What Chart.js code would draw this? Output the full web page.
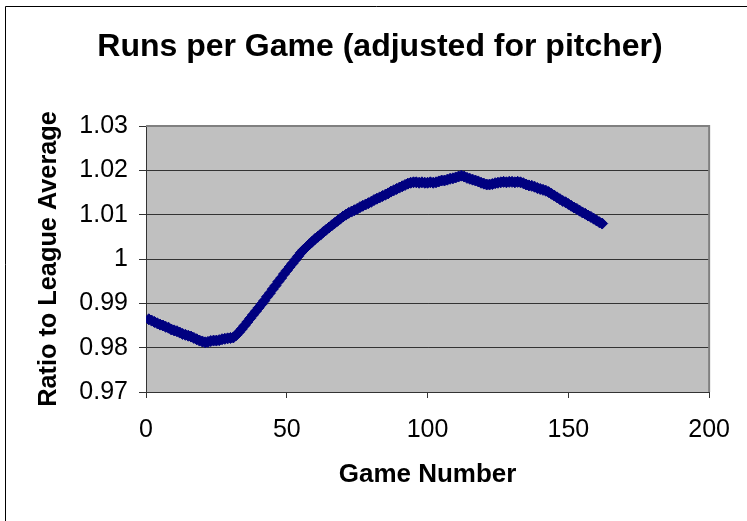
<!DOCTYPE html>
<html>
<head>
<meta charset="utf-8">
<script src="https://cdn.jsdelivr.net/npm/chart.js@4/dist/chart.umd.min.js"></script>
<style>
  html, body { margin: 0; padding: 0; background: #ffffff; }
  #wrap { width: 747px; height: 521px; position: relative; }
</style>
</head>
<body>
<div id="wrap"><canvas id="chart" width="747" height="521"></canvas></div>
<script>
// Text
const chartTitle = 'Runs per Game (adjusted for pitcher)';
const xAxisTitle = 'Game Number';
const yAxisTitle = 'Ratio to League Average';

// Axis ranges and tick labels
const xTickValues = [0, 50, 100, 150, 200];
const yTickValues = [0.97, 0.98, 0.99, 1.00, 1.01, 1.02, 1.03];
const yTickLabels = ['0.97', '0.98', '0.99', '1', '1.01', '1.02', '1.03'];

// Game number of each point
const games = [
    1,   2,   3,   4,   5,   6,   7,   8,   9,  10,  11,  12,  13,  14,  15,  16,  17,  18,
   19,  20,  21,  22,  23,  24,  25,  26,  27,  28,  29,  30,  31,  32,  33,  34,  35,  36,
   37,  38,  39,  40,  41,  42,  43,  44,  45,  46,  47,  48,  49,  50,  51,  52,  53,  54,
   55,  56,  57,  58,  59,  60,  61,  62,  63,  64,  65,  66,  67,  68,  69,  70,  71,  72,
   73,  74,  75,  76,  77,  78,  79,  80,  81,  82,  83,  84,  85,  86,  87,  88,  89,  90,
   91,  92,  93,  94,  95,  96,  97,  98,  99, 100, 101, 102, 103, 104, 105, 106, 107, 108,
  109, 110, 111, 112, 113, 114, 115, 116, 117, 118, 119, 120, 121, 122, 123, 124, 125, 126,
  127, 128, 129, 130, 131, 132, 133, 134, 135, 136, 137, 138, 139, 140, 141, 142, 143, 144,
  145, 146, 147, 148, 149, 150, 151, 152, 153, 154, 155, 156, 157, 158, 159, 160, 161, 162
];

// Runs per game relative to league average, by game number
const ratios = [
  0.9864, 0.9861, 0.9858, 0.9855, 0.9852, 0.9850, 0.9847, 0.9845, 0.9841, 0.9839,
  0.9837, 0.9834, 0.9831, 0.9829, 0.9827, 0.9825, 0.9822, 0.9819, 0.9816, 0.9814,
  0.9812, 0.9813, 0.9815, 0.9816, 0.9816, 0.9817, 0.9819, 0.9820, 0.9821, 0.9822,
  0.9823, 0.9828, 0.9835, 0.9842, 0.9850, 0.9858, 0.9866, 0.9874, 0.9882, 0.9890,
  0.9898, 0.9906, 0.9915, 0.9923, 0.9932, 0.9940, 0.9949, 0.9957, 0.9966, 0.9974,
  0.9982, 0.9990, 0.9998, 1.0006, 1.0014, 1.0021, 1.0027, 1.0033, 1.0039, 1.0045,
  1.0050, 1.0055, 1.0061, 1.0066, 1.0071, 1.0076, 1.0081, 1.0086, 1.0091, 1.0096,
  1.0100, 1.0104, 1.0107, 1.0110, 1.0113, 1.0117, 1.0120, 1.0123, 1.0126, 1.0129,
  1.0133, 1.0136, 1.0139, 1.0142, 1.0145, 1.0148, 1.0152, 1.0155, 1.0158, 1.0161,
  1.0164, 1.0167, 1.0170, 1.0172, 1.0173, 1.0173, 1.0172, 1.0173, 1.0172, 1.0172,
  1.0173, 1.0172, 1.0173, 1.0175, 1.0177, 1.0177, 1.0179, 1.0181, 1.0182, 1.0184,
  1.0186, 1.0188, 1.0186, 1.0183, 1.0181, 1.0179, 1.0177, 1.0175, 1.0172, 1.0170,
  1.0168, 1.0168, 1.0169, 1.0171, 1.0172, 1.0173, 1.0174, 1.0173, 1.0174, 1.0174,
  1.0173, 1.0174, 1.0173, 1.0171, 1.0168, 1.0166, 1.0165, 1.0163, 1.0160, 1.0158,
  1.0156, 1.0154, 1.0151, 1.0147, 1.0143, 1.0139, 1.0135, 1.0131, 1.0128, 1.0124,
  1.0120, 1.0116, 1.0113, 1.0109, 1.0105, 1.0102, 1.0098, 1.0095, 1.0091, 1.0087,
  1.0083, 1.0080
];

const points = games.map((g, i) => ({ x: g, y: ratios[i] }));

Chart.defaults.font.family = '"Liberation Sans", Arial, Helvetica, sans-serif';
Chart.defaults.color = '#000000';

// Page background, outer frame, grey plot area and its grey top/right edges
const plotDecor = {
  id: 'plotDecor',
  beforeDraw(chart) {
    const { ctx, chartArea: a } = chart;
    ctx.save();
    ctx.fillStyle = '#ffffff';
    ctx.fillRect(0, 0, chart.width, chart.height);
    ctx.strokeStyle = '#000000';
    ctx.lineWidth = 1;
    ctx.beginPath();
    ctx.moveTo(5.5, chart.height + 2);
    ctx.lineTo(5.5, 6.5);
    ctx.lineTo(chart.width + 2, 6.5);
    ctx.stroke();
    ctx.fillStyle = '#c0c0c0';
    ctx.fillRect(a.left, a.top, a.right - a.left, a.bottom - a.top);
    ctx.restore();
  },
  beforeDatasetsDraw(chart) {
    const { ctx, chartArea: a } = chart;
    ctx.save();
    ctx.strokeStyle = '#808080';
    ctx.lineWidth = 2;
    ctx.beginPath();
    ctx.moveTo(a.left, a.top);
    ctx.lineTo(a.right, a.top);
    ctx.lineTo(a.right, a.bottom);
    ctx.stroke();
    ctx.restore();
  }
};

new Chart(document.getElementById('chart'), {
  type: 'line',
  data: {
    datasets: [{
      data: points,
      borderColor: '#000080',
      borderWidth: 3,
      tension: 0,
      pointStyle: 'rectRot',
      pointRadius: 5.5,
      pointBackgroundColor: '#000080',
      pointBorderColor: '#000080',
      pointBorderWidth: 1
    }]
  },
  options: {
    responsive: false,
    animation: false,
    devicePixelRatio: 1,
    layout: { padding: { left: 46, right: 33, top: 0, bottom: 0 } },
    plugins: {
      legend: { display: false },
      tooltip: { enabled: false },
      title: {
        display: true,
        text: chartTitle,
        color: '#000000',
        font: { size: 32, weight: 'bold' },
        padding: { top: 28, bottom: 59.6 }
      }
    },
    scales: {
      x: {
        type: 'linear',
        min: xTickValues[0],
        max: xTickValues[xTickValues.length - 1],
        afterBuildTicks: s => { s.ticks = xTickValues.map(v => ({ value: v })); },
        afterFit: s => { s.height = 129; },
        ticks: {
          color: '#000000',
          font: { size: 25 },
          padding: 17,
          maxRotation: 0,
          callback: v => String(v)
        },
        grid: { drawOnChartArea: false, drawTicks: true, tickLength: 6, color: '#333333' },
        border: { display: true, color: '#333333', width: 1 },
        title: {
          display: true,
          text: xAxisTitle,
          color: '#000000',
          font: { size: 26, weight: 'bold' },
          padding: { top: 0, bottom: 31 }
        }
      },
      y: {
        type: 'linear',
        min: yTickValues[0],
        max: yTickValues[yTickValues.length - 1],
        afterBuildTicks: s => { s.ticks = yTickValues.map(v => ({ value: v })); },
        afterFit: s => { s.width = 100; },
        ticks: {
          color: '#000000',
          font: { size: 25 },
          padding: 11,
          callback: (v, i) => yTickLabels[i]
        },
        grid: { drawTicks: true, tickLength: 7, color: '#333333', lineWidth: 1 },
        border: { display: true, color: '#333333', width: 1 },
        title: {
          display: true,
          text: yAxisTitle,
          color: '#000000',
          font: { size: 25.3, weight: 'bold' },
          padding: { top: -12, bottom: 0 }
        }
      }
    }
  },
  plugins: [plotDecor]
});
</script>
</body>
</html>
